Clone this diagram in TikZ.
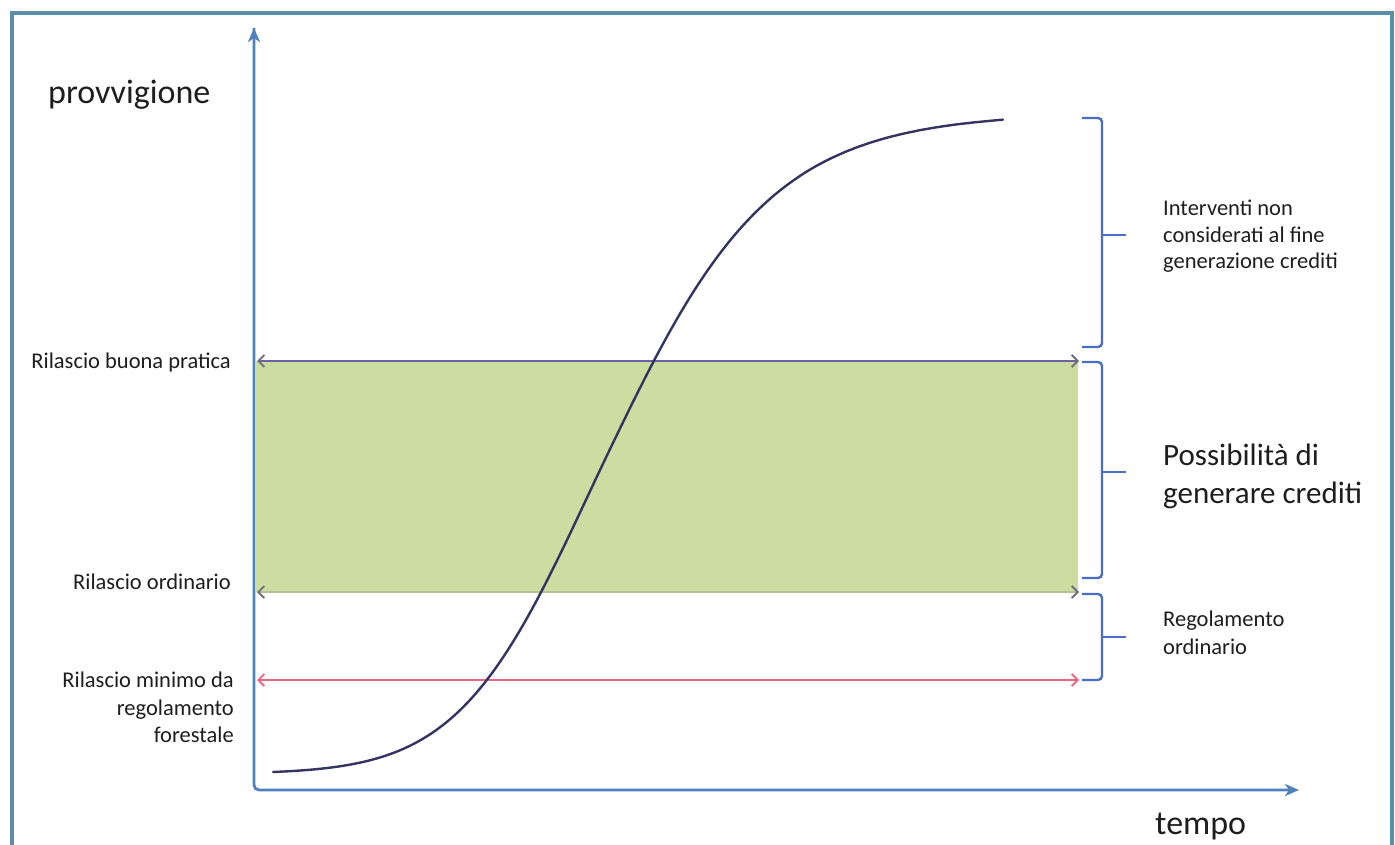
\documentclass[tikz,border=0pt]{standalone}
\usepackage{fontspec}
\setmainfont{Carlito}
\usetikzlibrary{arrows.meta}
\definecolor{framecol}{RGB}{91,143,168}
\definecolor{axiscol}{RGB}{79,129,189}
\definecolor{bandcol}{RGB}{205,220,160}
\definecolor{curvecol}{RGB}{52,52,96}
\definecolor{brkcol}{RGB}{74,110,196}
\definecolor{lvlcol}{RGB}{106,98,162}
\definecolor{tipcol}{RGB}{110,110,120}
\definecolor{pinkcol}{RGB}{232,104,132}
\definecolor{txtcol}{RGB}{30,30,30}
\tikzset{
  axisline/.style={axiscol,line width=2.8pt,-{Stealth[length=14pt,width=12pt,inset=4pt]}},
  lvlarrow/.style={line width=1.8pt,{Straight Barb[length=6pt,width=12pt,color=tipcol]}-{Straight Barb[length=6pt,width=12pt,color=tipcol]}},
  brkline/.style={brkcol,line width=2.4pt,rounded corners=4pt},
  ticknode/.style={brkcol,line width=2.4pt},
  smalltxt/.style={txtcol,inner sep=0pt,font=\fontsize{22.5}{27.5}\selectfont},
  bigtxt/.style={txtcol,inner sep=0pt,font=\fontsize{34}{40}\selectfont},
  midtxt/.style={txtcol,inner sep=0pt,font=\fontsize{31}{38}\selectfont},
  declare function={
    zz(\t)=(\t<613) ? ((\t-613)/80 - 0.14*((613-\t)/100)^2) : ((\t-613)/80 - 0.03*((\t-613)/100)^2);
    ff(\t)=1/(1+exp(-zz(\t)));
  },
}
\begin{document}
\begin{tikzpicture}[x=1pt,y=-1pt]
\useasboundingbox (0,0) rectangle (1395,845);
\fill[white] (0,0) rectangle (1395,845);
\draw[framecol,line width=4pt] (11.5,13) rectangle (1391.5,870);

% green band
\fill[bandcol] (256,361) rectangle (1078,592);

% axes
\coordinate (O) at (254,790);
\coordinate (ytip) at (254,28);
\coordinate (xtip) at (1299,790);
\draw[axisline,rounded corners=5pt] (ytip) -- (O) -- (xtip);
\draw[axiscol,line width=2.8pt,-{Stealth[length=14pt,width=12pt,inset=4pt]}] (254,400) -- (ytip);

% level arrows
\coordinate (bpL) at (257,361);
\coordinate (bpR) at (1079,361);
\coordinate (roL) at (257,592);
\coordinate (roR) at (1079,592);
\coordinate (rmL) at (257,680);
\coordinate (rmR) at (1079,680);
\draw[lvlarrow,lvlcol] (bpL) -- (bpR);
\draw[lvlarrow,bandcol!70!gray] (roL) -- (roR);
\draw[lvlarrow,pinkcol,{Straight Barb[length=6pt,width=12pt]}-{Straight Barb[length=6pt,width=12pt]}] (rmL) -- (rmR);

% growth curve
\draw[curvecol,line width=2.4pt,line cap=round] plot[domain=273:1003,samples=150,smooth,variable=\t]
  ({\t},{772-655*(ff(\t)-0.00282)/0.98925});

% brackets
\draw[brkline] (1082,118) -- (1102,118) -- (1102,347) -- (1082,347);
\draw[ticknode] (1102,235) -- (1126,235);
\draw[brkline] (1082,362) -- (1102,362) -- (1102,578) -- (1082,578);
\draw[ticknode] (1102,472) -- (1126,472);
\draw[brkline] (1082,594) -- (1102,594) -- (1102,680) -- (1082,680);
\draw[ticknode] (1102,637) -- (1126,637);

% axis labels
\node[bigtxt,anchor=base west] (ylab) at (48,104) {provvigione};
\node[bigtxt,anchor=base west] (xlab) at (1155,834) {tempo};

% left labels
\node[smalltxt,anchor=base east] (lbp) at (231,368) {Rilascio buona pratica};
\node[smalltxt,anchor=base east] (lro) at (231,589) {Rilascio ordinario};
\node[smalltxt,anchor=north east,align=right] (lrm) at (234,672) {Rilascio minimo da\\regolamento\\forestale};

% right labels
\node[smalltxt,anchor=north west,align=left,font=\fontsize{22.5}{26.5}\selectfont] (rint) at (1163,200) {Interventi non\\considerati al fine\\generazione crediti};
\node[midtxt,anchor=north west,align=left] (rpos) at (1163,444) {Possibilità di\\generare crediti};
\node[smalltxt,anchor=north west,align=left] (rreg) at (1163,611) {Regolamento\\ordinario};
\end{tikzpicture}
\end{document}
